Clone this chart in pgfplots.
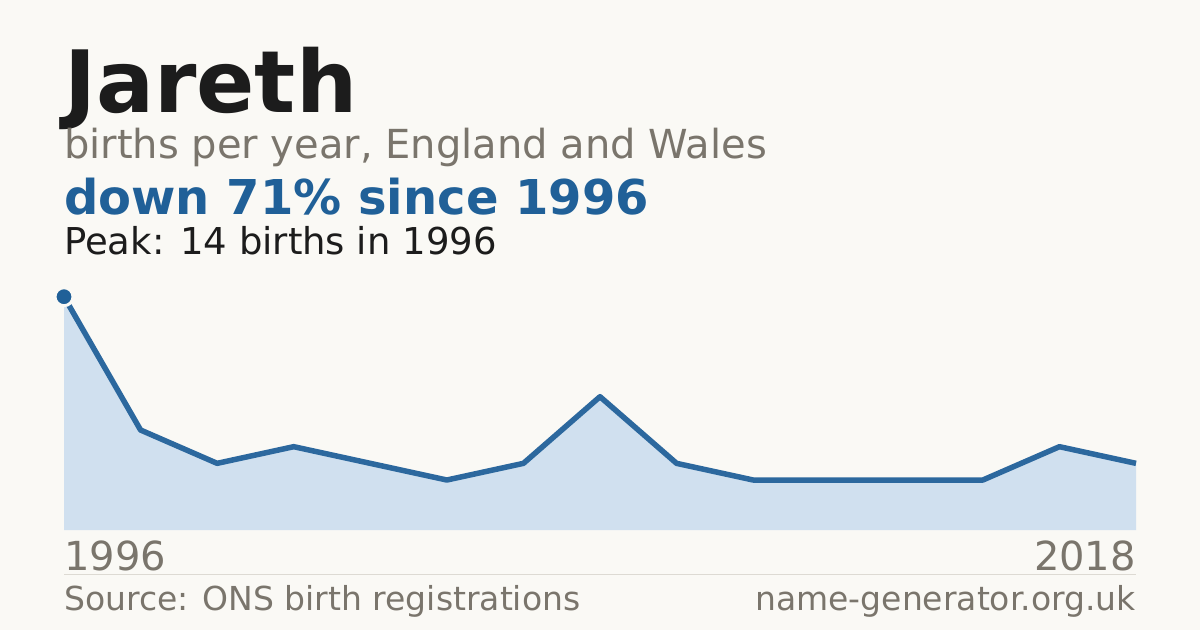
\documentclass[border=0pt]{standalone}
\usepackage{fontspec}
\setmainfont{DejaVu Sans}
\usepackage{pgfplots}
\pgfplotsset{compat=1.18}
\definecolor{bg}{RGB}{250,249,245}
\definecolor{ink}{RGB}{28,28,28}
\definecolor{muted}{RGB}{122,117,108}
\definecolor{accent}{RGB}{32,96,152}
\definecolor{linecol}{RGB}{44,104,158}
\definecolor{areafill}{RGB}{208,224,239}
\definecolor{rule}{RGB}{221,218,211}

\pgfplotstableread{
idx births
0 14
1 6
2 4
3 5
4 4
5 3
6 4
7 8
8 4
9 3
10 3
11 3
12 3
13 5
14 4
}\births

\begin{document}
\begin{tikzpicture}[x=1bp,y=1bp]
\fill[bg] (0,0) rectangle (1200,-630);

% headings
\node[anchor=base west,inner sep=0,text=ink] at (64,-113)
  {\fontsize{86bp}{86bp}\selectfont\bfseries Jareth};
\node[anchor=base west,inner sep=0,text=muted] at (64,-159)
  {\fontsize{40bp}{40bp}\selectfont births per year, England and Wales};
\node[anchor=base west,inner sep=0,text=accent] at (64,-215)
  {\fontsize{48bp}{48bp}\selectfont\bfseries down 71\% since 1996};
\node[anchor=base west,inner sep=0,text=ink] at (64,-255)
  {\fontsize{37bp}{37bp}\selectfont Peak: 14 births in 1996};

\begin{axis}[
  at={(64bp,-530bp)}, anchor=origin,
  scale only axis, width=1072bp, height=233.3bp,
  xmin=0, xmax=14, ymin=0, ymax=14,
  hide axis, clip=false,
]
\addplot[draw=none, fill=areafill] table[x=idx,y=births] {\births} \closedcycle;
\addplot[linecol, line width=5.5bp, line join=round] table[x=idx,y=births] {\births};
\addplot[only marks, mark=*, mark size=9bp,
  mark options={fill=accent, draw=bg, line width=3bp}] coordinates {(0,14)};
\end{axis}

% footer
\node[anchor=base west,inner sep=0,text=muted] at (64,-570)
  {\fontsize{40bp}{40bp}\selectfont 1996};
\node[anchor=base east,inner sep=0,text=muted] at (1136,-570)
  {\fontsize{40bp}{40bp}\selectfont 2018};
\draw[rule, line width=1bp] (64,-574.5) -- (1136,-574.5);
\node[anchor=base west,inner sep=0,text=muted] at (64,-610)
  {\fontsize{33bp}{33bp}\selectfont Source: ONS birth registrations};
\node[anchor=base east,inner sep=0,text=muted] at (1136,-610)
  {\fontsize{33bp}{33bp}\selectfont name-generator.org.uk};

\pgfresetboundingbox
\path (0,0) rectangle (1200,-630);
\end{tikzpicture}
\end{document}
